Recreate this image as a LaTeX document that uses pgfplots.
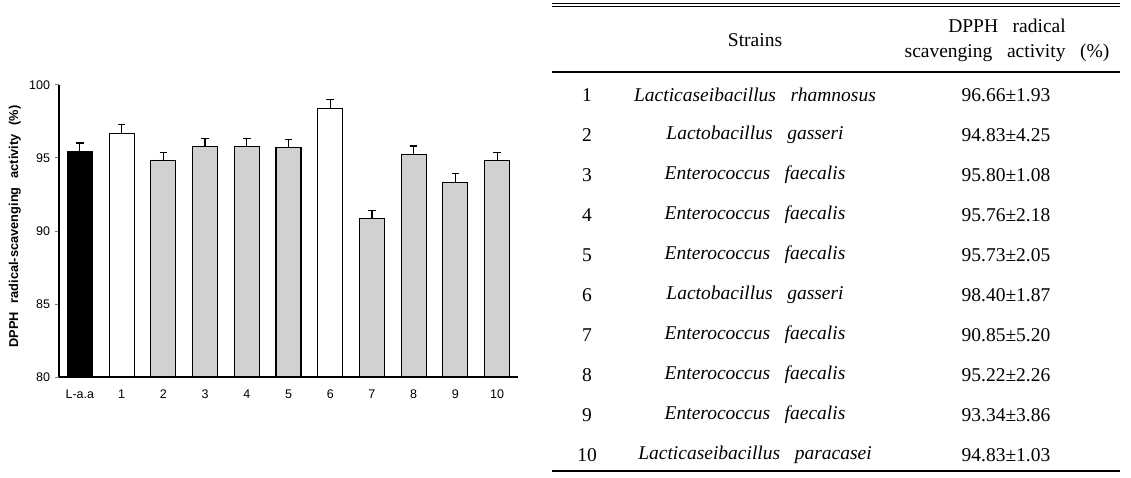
\documentclass[border=0pt]{standalone}
\usepackage{fontspec}
\setmainfont{Liberation Serif}
\newfontfamily\arial{Liberation Sans}
\newfontfamily\arialsp[WordSpace=2.5]{Liberation Sans}
\newfontfamily\tabfont[WordSpace=3]{Liberation Serif}
\usepackage{pgfplots}
\pgfplotsset{compat=1.18}
\begin{document}
\begin{tikzpicture}[x=1pt,y=1pt]
\path[use as bounding box] (0,0) rectangle (1131,477);
\begin{axis}[
  at={(59pt,100pt)}, anchor=south west,
  scale only axis, width=459pt, height=292pt,
  xmin=-0.5, xmax=10.5, ymin=80, ymax=100,
  axis x line*=bottom, axis y line*=left,
  axis line style={line width=1.2pt},
  ytick={80,85,90,95,100},
  xtick={0,...,10},
  xticklabels={L-a.a,1,2,3,4,5,6,7,8,9,10},
  /pgf/number format/assume math mode=true,
  tick align=outside, major tick length=4.5pt,
  ytick style={line width=1pt},
  xtick style={draw=none},
  tick label style={font=\fontsize{12.5}{14}\arial},
  yticklabel style={xshift=-1pt},
  xticklabel style={yshift=-5pt},
  ylabel={DPPH radical-scavenging activity (\%)},
  every axis y label/.style={at={(axis description cs:-0.096,0.515)}, rotate=90, anchor=center,
    font=\fontsize{12.8}{14}\arialsp\bfseries},
  ybar, bar width=25pt,
  every axis plot/.append style={bar shift=0pt, draw=black, line width=1.1pt,
    error bars/y dir=plus, error bars/y explicit,
    error bars/error bar style={line width=1.1pt, black},
    error bars/error mark options={rotate=90, mark size=3.8pt, line width=1.1pt, black}},
]
\addplot[fill=black] coordinates {(0,95.41) +- (0,0.62)};
\addplot[fill=white] coordinates {(1,96.66) +- (0,0.62) (6,98.40) +- (0,0.60)};
\addplot[fill=black!18] coordinates {
  (2,94.83) +- (0,0.55)
  (3,95.80) +- (0,0.53)
  (4,95.76) +- (0,0.60)
  (5,95.73) +- (0,0.55)
  (7,90.85) +- (0,0.58)
  (8,95.22) +- (0,0.60)
  (9,93.34) +- (0,0.60)
  (10,94.83) +- (0,0.57)
};
\end{axis}
% table
\draw[line width=1.2pt] (552,473.2) -- (1120,473.2);
\draw[line width=1.2pt] (552,470.2) -- (1120,470.2);
\draw[line width=1.2pt] (552,405) -- (1120,405);
\draw[line width=1.2pt] (552,6) -- (1120,6);
\begin{scope}[every node/.style={font=\fontsize{19.5}{25}\tabfont, inner sep=0pt}]
\node at (755,437) {Strains};
\node[align=center] at (1007,436.5) {DPPH radical\\scavenging activity (\%)};
\foreach \i/\s/\v in {
  1/Lacticaseibacillus rhamnosus/96.66,
  2/Lactobacillus gasseri/94.83,
  3/Enterococcus faecalis/95.80,
  4/Enterococcus faecalis/95.76,
  5/Enterococcus faecalis/95.73,
  6/Lactobacillus gasseri/98.40,
  7/Enterococcus faecalis/90.85,
  8/Enterococcus faecalis/95.22,
  9/Enterococcus faecalis/93.34,
  10/Lacticaseibacillus paracasei/94.83}{
  \node at (587,{382-40*(\i-1)}) {\i};
  \node at (755,{382-40*(\i-1)}) {\itshape \s};
}
\foreach \i/\e in {1/96.66\textpm 1.93,2/94.83\textpm 4.25,3/95.80\textpm 1.08,4/95.76\textpm 2.18,5/95.73\textpm 2.05,6/98.40\textpm 1.87,7/90.85\textpm 5.20,8/95.22\textpm 2.26,9/93.34\textpm 3.86,10/94.83\textpm 1.03}{
  \node at (1006,{382-40*(\i-1)}) {\e};
}
\end{scope}
\end{tikzpicture}
\end{document}
